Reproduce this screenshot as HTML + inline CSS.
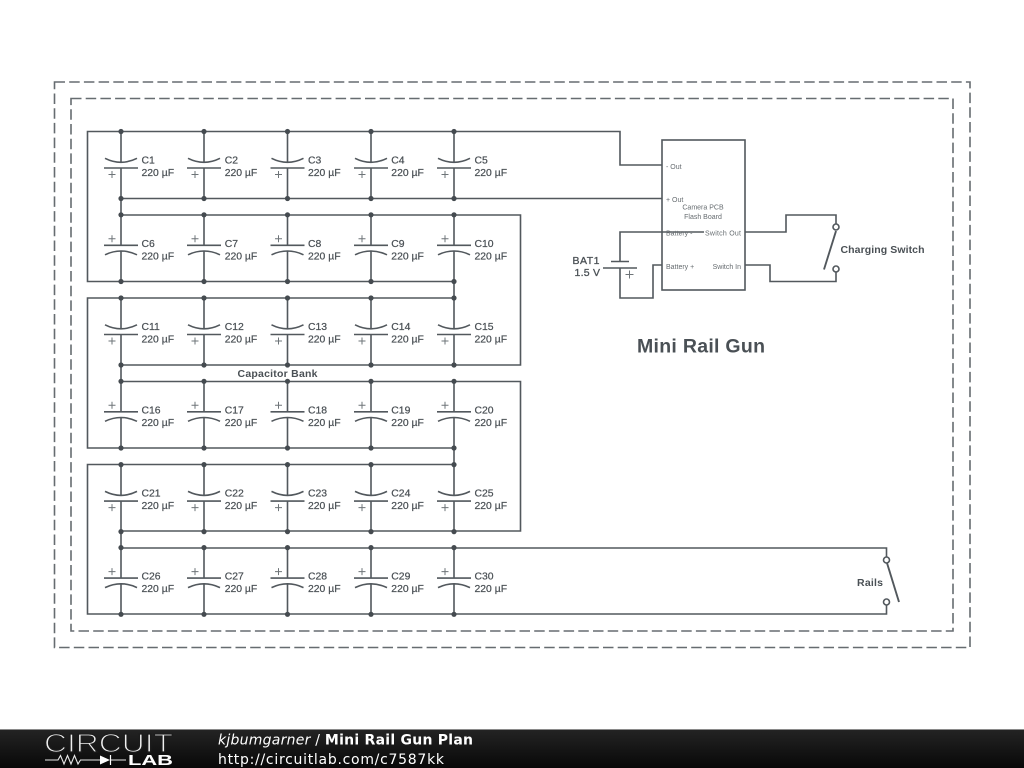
<!DOCTYPE html>
<html><head><meta charset="utf-8"><title>Mini Rail Gun Plan</title>
<style>
html,body{margin:0;padding:0;background:#fff;width:1024px;height:768px;overflow:hidden}
svg{display:block}
.w{fill:none;stroke:#52585d;stroke-width:1.6}
.d{fill:none;stroke:#666c70;stroke-width:1.6;stroke-dasharray:10.5 4.2}
.p{fill:none;stroke:#6e7478;stroke-width:1}
text{font-family:"Liberation Sans",sans-serif;fill:#4a5055}
.l text,.l{font-size:10.4px;stroke:#4a5055;stroke-width:.22}
.b{font-size:7px;fill:#666c70}
.h{font-weight:bold}
.f{font-family:"DejaVu Sans",sans-serif;fill:#fff}
</style></head><body>
<svg width="1024" height="768" viewBox="0 0 1024 768" xmlns="http://www.w3.org/2000/svg">
<defs>
<g id="t">
<path class="w" d="M0 0V30.8M0 36.5V67M-17 36.5H17M-16 26.8Q0 34.8 16 26.8"/>
<path class="p" d="M-12.5 43H-5.5M-9 39.5V46.5"/>
<circle r="2.6" fill="#454b50"/><circle cy="67" r="2.6" fill="#454b50"/>
</g>
<g id="u">
<path class="w" d="M0 0V30.5M0 36.2V66.7M-17 30.5H17M-16 40Q0 32.4 16 40"/>
<path class="p" d="M-12.5 24H-5.5M-9 20.5V27.5"/>
<circle r="2.6" fill="#454b50"/><circle cy="66.7" r="2.6" fill="#454b50"/>
</g>
</defs>
<rect width="1024" height="768" fill="#fff"/>
<path class="d" d="M54.5 82H970V647.5H54.5Z"/>
<path class="d" d="M71 98.5H953V631H71Z"/>

<!-- wires -->
<path class="w" d="M121 131.5H87.5V281.5H454M121 131.5H620V165H662M121 198.5H662M121 198.5V215M121 215H520.5V365H121M454 281.5V298M454 298H87.5V448H454M121 365V381.5M121 381.5H520.5V531H121M454 448V464.5M454 464.5H87.5V614H886.5V605M121 531V548M121 548H886.5V557"/>
<rect class="w" x="662" y="140" width="83" height="150"/>
<path class="w" d="M662 232H620V261.5M611 261.5H629M603 268H637M620 268V298H653V265H662M662 232H704M745 232H786V215H836V224M745 265H770V281.5H836V272.5"/>
<path class="p" d="M625.5 274.5H633.5M629.5 270.5V278.5"/>
<circle class="w" cx="836" cy="227" r="3" style="fill:#fff"/>
<circle class="w" cx="836" cy="269" r="3" style="fill:#fff"/>
<path class="w" d="M836 231L824 269.5" style="stroke-width:1.9"/>
<circle class="w" cx="886.5" cy="560" r="3" style="fill:#fff"/>
<circle class="w" cx="886.5" cy="602" r="3" style="fill:#fff"/>
<path class="w" d="M887 563L899 602" style="stroke-width:1.9"/>

<!-- capacitors -->
<use href="#t" x="121" y="131.5"/><use href="#t" x="204" y="131.5"/><use href="#t" x="287.5" y="131.5"/><use href="#t" x="371" y="131.5"/><use href="#t" x="454" y="131.5"/>
<use href="#u" x="121" y="214.8"/><use href="#u" x="204" y="214.8"/><use href="#u" x="287.5" y="214.8"/><use href="#u" x="371" y="214.8"/><use href="#u" x="454" y="214.8"/>
<use href="#t" x="121" y="298"/><use href="#t" x="204" y="298"/><use href="#t" x="287.5" y="298"/><use href="#t" x="371" y="298"/><use href="#t" x="454" y="298"/>
<use href="#u" x="121" y="381.3"/><use href="#u" x="204" y="381.3"/><use href="#u" x="287.5" y="381.3"/><use href="#u" x="371" y="381.3"/><use href="#u" x="454" y="381.3"/>
<use href="#t" x="121" y="464.6"/><use href="#t" x="204" y="464.6"/><use href="#t" x="287.5" y="464.6"/><use href="#t" x="371" y="464.6"/><use href="#t" x="454" y="464.6"/>
<use href="#u" x="121" y="547.6"/><use href="#u" x="204" y="547.6"/><use href="#u" x="287.5" y="547.6"/><use href="#u" x="371" y="547.6"/><use href="#u" x="454" y="547.6"/>

<!-- labels -->
<g class="l">
<text x="141.5" y="163.5">C1</text><text x="141.5" y="176">220 µF</text>
<text x="224.7" y="163.5">C2</text><text x="224.7" y="176">220 µF</text>
<text x="308" y="163.5">C3</text><text x="308" y="176">220 µF</text>
<text x="391.3" y="163.5">C4</text><text x="391.3" y="176">220 µF</text>
<text x="474.5" y="163.5">C5</text><text x="474.5" y="176">220 µF</text>

<text x="141.5" y="246.8">C6</text><text x="141.5" y="259.3">220 µF</text>
<text x="224.7" y="246.8">C7</text><text x="224.7" y="259.3">220 µF</text>
<text x="308" y="246.8">C8</text><text x="308" y="259.3">220 µF</text>
<text x="391.3" y="246.8">C9</text><text x="391.3" y="259.3">220 µF</text>
<text x="474.5" y="246.8">C10</text><text x="474.5" y="259.3">220 µF</text>

<text x="141.5" y="330">C11</text><text x="141.5" y="342.5">220 µF</text>
<text x="224.7" y="330">C12</text><text x="224.7" y="342.5">220 µF</text>
<text x="308" y="330">C13</text><text x="308" y="342.5">220 µF</text>
<text x="391.3" y="330">C14</text><text x="391.3" y="342.5">220 µF</text>
<text x="474.5" y="330">C15</text><text x="474.5" y="342.5">220 µF</text>

<text x="141.5" y="413.3">C16</text><text x="141.5" y="425.8">220 µF</text>
<text x="224.7" y="413.3">C17</text><text x="224.7" y="425.8">220 µF</text>
<text x="308" y="413.3">C18</text><text x="308" y="425.8">220 µF</text>
<text x="391.3" y="413.3">C19</text><text x="391.3" y="425.8">220 µF</text>
<text x="474.5" y="413.3">C20</text><text x="474.5" y="425.8">220 µF</text>

<text x="141.5" y="496.6">C21</text><text x="141.5" y="509.1">220 µF</text>
<text x="224.7" y="496.6">C22</text><text x="224.7" y="509.1">220 µF</text>
<text x="308" y="496.6">C23</text><text x="308" y="509.1">220 µF</text>
<text x="391.3" y="496.6">C24</text><text x="391.3" y="509.1">220 µF</text>
<text x="474.5" y="496.6">C25</text><text x="474.5" y="509.1">220 µF</text>

<text x="141.5" y="579.6">C26</text><text x="141.5" y="592.1">220 µF</text>
<text x="224.7" y="579.6">C27</text><text x="224.7" y="592.1">220 µF</text>
<text x="308" y="579.6">C28</text><text x="308" y="592.1">220 µF</text>
<text x="391.3" y="579.6">C29</text><text x="391.3" y="592.1">220 µF</text>
<text x="474.5" y="579.6">C30</text><text x="474.5" y="592.1">220 µF</text>
</g>
<text class="h" x="237.5" y="377" font-size="10.5" textLength="80">Capacitor Bank</text>
<text class="h" x="840.5" y="253" font-size="10.5" textLength="84">Charging Switch</text>
<text class="h" x="857" y="586" font-size="10.5" textLength="26">Rails</text>
<text x="572.5" y="264" font-size="10.5" textLength="27" style="stroke:#4a5055;stroke-width:.3">BAT1</text>
<text x="574.5" y="276" font-size="10.5" textLength="25.5" style="stroke:#4a5055;stroke-width:.3">1.5 V</text>
<text class="h" x="637" y="352.5" font-size="19.5" textLength="128">Mini Rail Gun</text>

<text class="b" x="666" y="169">- Out</text>
<text class="b" x="666" y="202">+ Out</text>
<text class="b" x="703" y="209.5" text-anchor="middle">Camera PCB</text>
<text class="b" x="703" y="219" text-anchor="middle">Flash Board</text>
<text class="b" x="666" y="235.5">Battery -</text>
<text class="b" x="705" y="235.5" textLength="36">Switch Out</text>
<text class="b" x="666" y="269">Battery +</text>
<text class="b" x="741" y="269" text-anchor="end">Switch In</text>

<!-- footer -->
<defs><linearGradient id="g" x1="0" y1="0" x2="0" y2="1"><stop offset="0" stop-color="#242424"/><stop offset="1" stop-color="#080808"/></linearGradient></defs>
<rect x="0" y="729" width="1024" height="39" fill="url(#g)"/>
<rect x="0" y="729" width="1024" height="1" fill="#8a8a8a"/>
<text x="44" y="752" font-size="26" textLength="129" lengthAdjust="spacingAndGlyphs" style="fill:#f0f0f0;stroke:#1c1c1c;stroke-width:1.2">CIRCUIT</text>
<path d="M45 760H58L60.5 755.5L64 764L67.5 755.5L71 764L74.5 755.5L78 764L80.5 760H100M110 760H126" fill="none" stroke="#e8e8e8" stroke-width="1.1"/>
<path d="M100 755.5V764.5L110 760Z" fill="#fff"/><path d="M110.5 755V765" stroke="#fff" stroke-width="1.2"/>
<text x="128" y="765" font-size="15" font-weight="bold" textLength="45" lengthAdjust="spacingAndGlyphs" style="fill:#fff">LAB</text>
<text class="f" x="218" y="744.5" font-size="14" textLength="255"><tspan font-style="italic">kjbumgarner</tspan> / <tspan font-weight="bold">Mini Rail Gun Plan</tspan></text>
<text class="f" x="218" y="764" font-size="14" textLength="226">http://circuitlab.com/c7587kk</text>
</svg>
</body></html>
